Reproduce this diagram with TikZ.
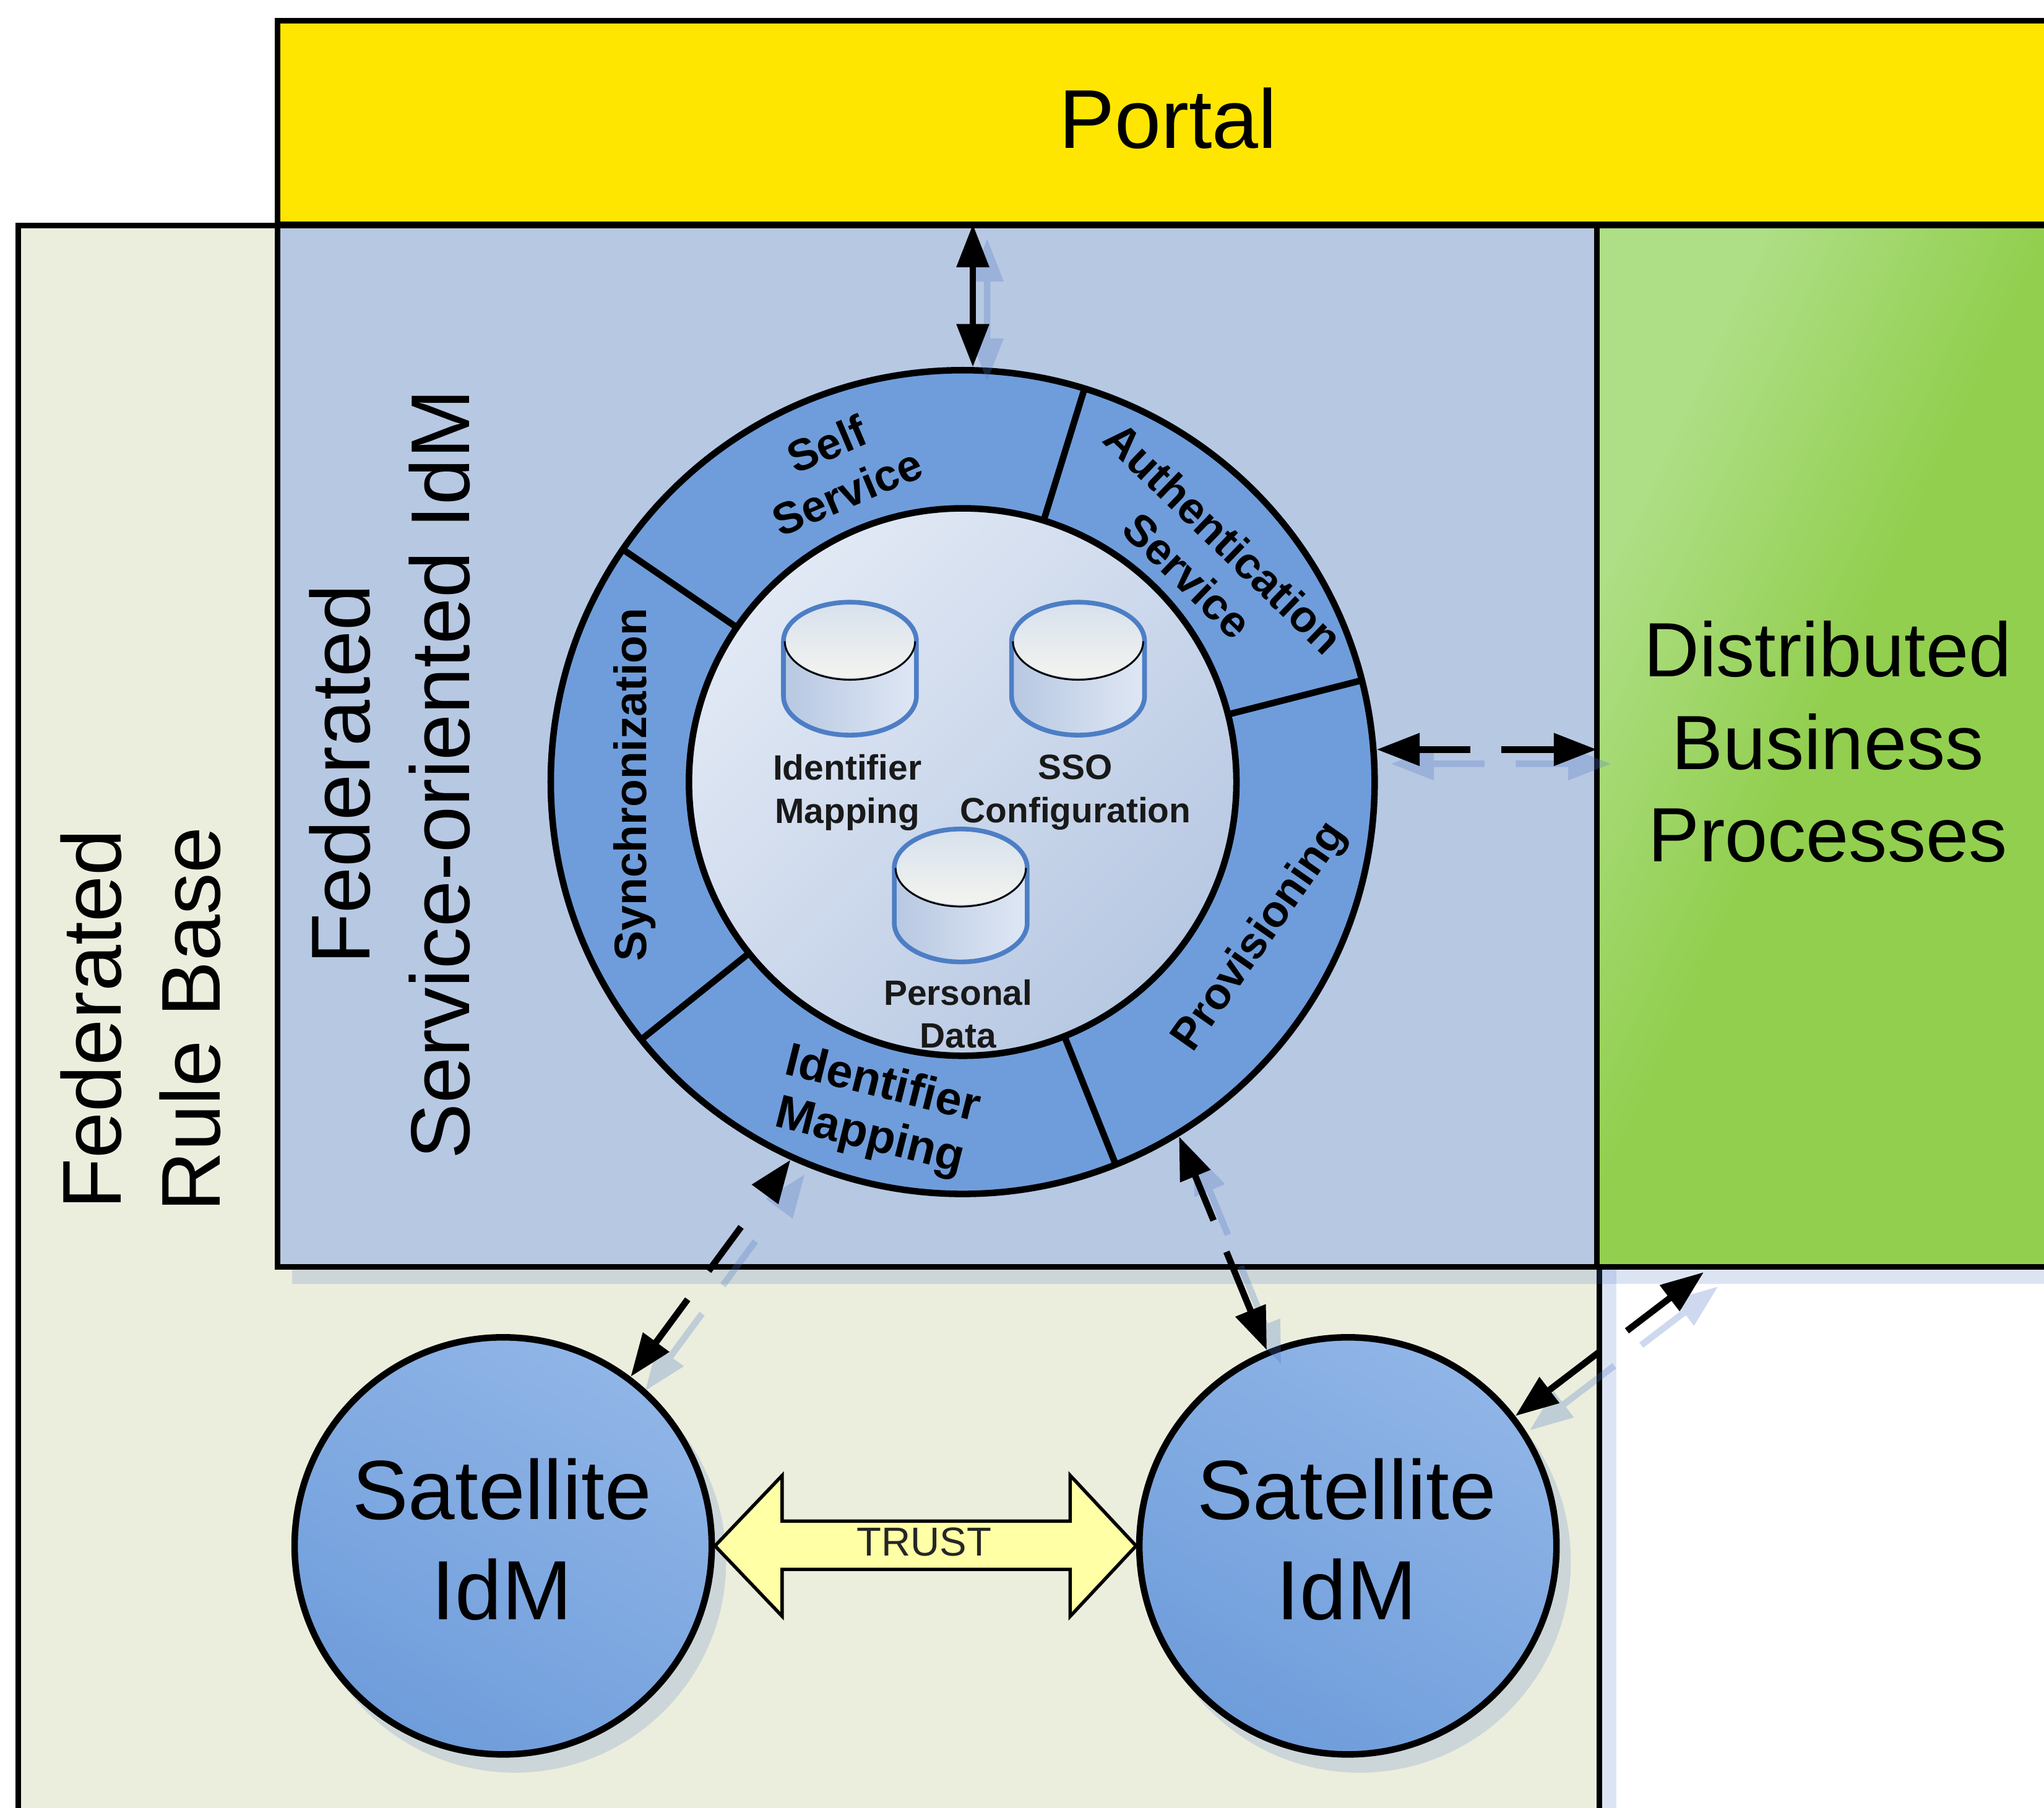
\documentclass[tikz,border=0pt]{standalone}
\usepackage{fontspec}
\setmainfont{Liberation Sans}
\usetikzlibrary{arrows.meta}
\definecolor{cPortal}{HTML}{FFE600}
\definecolor{cRule}{HTML}{EBEEDD}
\definecolor{cIdm}{HTML}{B7C8E2}
\definecolor{cRing}{HTML}{6F9DDB}
\definecolor{cShadow}{HTML}{5078C8}
\definecolor{cTrust}{HTML}{FFFFA5}
\definecolor{cCyl}{HTML}{4D7EC5}
\definecolor{cGreenA}{HTML}{AEDE85}
\definecolor{cGreenB}{HTML}{92CF4F}
\definecolor{cSatTop}{HTML}{90B5E7}
\definecolor{cInnerTop}{HTML}{E2E9F5}
\definecolor{cCylL}{HTML}{B7C8E2}
\definecolor{cCylR}{HTML}{DFE7F4}
\definecolor{cLidT}{HTML}{D8E1ED}
\definecolor{cLidB}{HTML}{F3F4EF}
\pgfdeclareverticalshading{greenglow}{100bp}{color(0bp)=(cGreenB); color(54bp)=(cGreenB); color(72bp)=(cGreenA); color(100bp)=(cGreenA)}
\tikzset{
  box/.style={draw=black,line width=4.5pt,inner sep=0pt,outer sep=0pt,anchor=north west,rectangle},
  bigtext/.style={align=center,inner sep=0pt,font=\fontsize{64}{76}\selectfont},
  ringtext/.style={align=center,inner sep=0pt,font=\bfseries\fontsize{34}{40}\selectfont},
  dbtext/.style={align=center,inner sep=0pt,font=\bfseries\fontsize{27}{33}\selectfont,text=black!90},
  disc/.style={circle,draw=black,line width=5pt,inner sep=0pt},
  divider/.style={draw=black,line width=5pt},
  conn/.style={line width=5pt,{Triangle[length=33pt,width=24pt]}-{Triangle[length=33pt,width=24pt]}},
  connshade/.style={conn,color=cShadow},
  shadowfill/.style={fill=cShadow,opacity=.2},
  dbcyl/.pic={
    \draw[line width=3.6pt,draw=cCyl,left color=cCylL,right color=cCylR]
      (-51,30) -- (-51,72) .. controls (-51,88.6) and (-28,102) .. (0,102)
      .. controls (28,102) and (51,88.6) .. (51,72) -- (51,30)
      .. controls (51,13.4) and (28,0) .. (0,0) .. controls (-28,0) and (-51,13.4) .. (-51,30) -- cycle;
    \shade[top color=cLidT,bottom color=cLidB] (0,30) ellipse [x radius=49,y radius=28];
    \draw[line width=1.4pt,black] (-50,30) .. controls (-50,46) and (-27,59.5) .. (0,59.5)
      .. controls (27,59.5) and (50,46) .. (50,30);
  },
}
\begin{document}
\begin{tikzpicture}[x=1pt,y=-1pt]
\useasboundingbox (0,0) rectangle (1568,1387.1);
\clip (0,0) rectangle (1568,1387.1);
\fill[fill=white] (0,0) rectangle (1568,1387.1);
% rule base with its shadow
\fill[cShadow!20!white] (25,185) rectangle (1240,1420);
\node[box,fill=cRule,minimum width=1213pt,minimum height=1260pt] (rulebase) at (14,173) {};
% shadow of the upper blocks
\fill[shadowfill] (224,185) rectangle (1600,985);
\node[box,fill=cIdm,minimum width=1012pt,minimum height=799pt] (idm) at (213,173) {};
\node[box,shading=greenglow,shading angle=65,minimum width=420pt,minimum height=799pt] (green) at (1225,173) {};
\node[box,fill=cPortal,minimum width=1420pt,minimum height=156pt] (portal) at (213,16) {};
% texts of blocks
\node[bigtext] (portaltext) at (896,91) {Portal};
\node[bigtext,font=\fontsize{59}{71}\selectfont] (greentext) at (1402,569) {Distributed\\Business\\Processes};
\node[bigtext,rotate=90] (ruletext) at (108,782) {Federated\\Rule Base};
\node[bigtext,rotate=90] (idmtext) at (299,594) {Federated\\Service-oriented IdM};
% central ring
\node[disc,fill=cRing,minimum size=632pt] (ring) at (738.5,600) {};
\node[disc,top color=cInnerTop,bottom color=cIdm,shading angle=45,minimum size=420pt] (inner) at (738.5,600) {};
\draw[divider] ([shift={(72.8:316pt)}]ring.center) -- ([shift={(72.8:210pt)}]inner.center);
\draw[divider] ([shift={(14.3:316pt)}]ring.center) -- ([shift={(14.3:210pt)}]inner.center);
\draw[divider] ([shift={(-68.2:316pt)}]ring.center) -- ([shift={(-68.2:210pt)}]inner.center);
\draw[divider] ([shift={(218.7:316pt)}]ring.center) -- ([shift={(218.7:210pt)}]inner.center);
\draw[divider] ([shift={(145.6:316pt)}]ring.center) -- ([shift={(145.6:210pt)}]inner.center);
% ring labels
\node[ringtext,rotate=23] (selfservice) at (642,359) {Self\\Service};
\node[ringtext,rotate=-44] (authservice) at (925,427) {Authentication\\Service};
\node[ringtext,rotate=55,font=\bfseries\fontsize{34}{40}\selectfont] (provisioning) at (967,719) {Provisioning};
\node[ringtext,rotate=-14,font=\bfseries\fontsize{36}{41}\selectfont] (idmapping) at (672,853) {Identifier\\Mapping};
\node[ringtext,rotate=90,font=\bfseries\fontsize{34.8}{40}\selectfont] (sync) at (487,602) {Synchronization};
% databases
\pic at (652,462) {dbcyl};
\pic at (827,462) {dbcyl};
\pic at (737,636) {dbcyl};
\node[dbtext] (dbone) at (650,608) {Identifier\\Mapping};
\node[dbtext] (dbtwo) at (825,608) {SSO\\Configuration};
\node[dbtext] (dbthree) at (735,778) {Personal\\Data};
% satellites
\fill[shadowfill] (395,1198) circle [radius=162];
\fill[shadowfill] (1043,1198) circle [radius=162];
\node[disc,top color=cSatTop,bottom color=cRing,shading angle=-30,minimum size=320pt] (satone) at (386,1186) {};
\node[disc,top color=cSatTop,bottom color=cRing,shading angle=-30,minimum size=320pt] (sattwo) at (1034,1186) {};
\node[bigtext,font=\fontsize{64.5}{77}\selectfont] (satonetext) at (385,1181) {Satellite\\IdM};
\node[bigtext,font=\fontsize{64.5}{77}\selectfont] (sattwotext) at (1033,1181) {Satellite\\IdM};
% trust arrow
\draw[fill=cTrust,draw=black,line width=2.6pt,line join=miter]
  (satone.east) -- (600,1132) -- (600,1167) -- (821,1167) -- (821,1132) -- (sattwo.west)
  -- (821,1240) -- (821,1204) -- (600,1204) -- (600,1240) -- cycle;
\node[inner sep=0pt,font=\fontsize{31}{36}\selectfont,text=black!85] (trust) at (709,1183) {TRUST};
% connector end points
\coordinate (ringtop) at ([shift={(88.6:318.5pt)}]ring.center);
\coordinate (ringright) at ([shift={(4.5:318.5pt)}]ring.center);
\coordinate (ringlowr) at ([shift={(-58.6:318.5pt)}]ring.center);
\coordinate (ringlowl) at ([shift={(-114.5:318.5pt)}]ring.center);
\coordinate (sattwotop) at ([shift={(112.5:162.5pt)}]sattwo.center);
\coordinate (sattworight) at ([shift={(37.8:162.5pt)}]sattwo.center);
\coordinate (satonetop) at ([shift={(53:162.5pt)}]satone.center);
\coordinate (portalport) at (ringtop |- portal.south);
\coordinate (greenport) at (green.west |- ringright);
\coordinate (greenlow) at (1307,976);
% connector shadows
\begin{scope}[transparency group,opacity=.28,transform canvas={xshift=11pt,yshift=-11pt}]
\draw[connshade] (portalport) -- (ringtop);
\draw[connshade,dash pattern=on 40pt off 24pt on 200pt] (ringright) -- (greenport);
\draw[connshade,dash pattern=on 38pt off 26pt on 200pt] (ringlowr) -- (sattwotop);
\draw[connshade,dash pattern=on 42pt off 27pt on 42pt off 200pt] (satonetop) -- (ringlowl);
\draw[connshade,dash pattern=on 50pt off 26pt on 200pt] (sattworight) -- (greenlow);
\end{scope}
% connectors
\draw[conn] (portalport) -- (ringtop);
\draw[conn,dash pattern=on 40pt off 24pt on 200pt] (ringright) -- (greenport);
\draw[conn,dash pattern=on 38pt off 26pt on 200pt] (ringlowr) -- (sattwotop);
\draw[conn,dash pattern=on 42pt off 27pt on 42pt off 200pt] (satonetop) -- (ringlowl);
\draw[conn,dash pattern=on 50pt off 26pt on 200pt] (sattworight) -- (greenlow);
\end{tikzpicture}
\end{document}
